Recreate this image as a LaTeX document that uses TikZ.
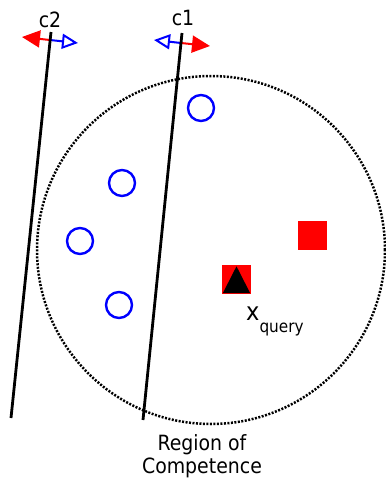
\documentclass[tikz,border=0pt]{standalone}
\usepackage{fontspec}
\setmainfont{DejaVu Sans Condensed}
\usetikzlibrary{arrows.meta}

\begin{document}
\begin{tikzpicture}[
  x=1pt, y=-1pt,
  sample/.style={circle, draw=blue, line width=2.4pt, minimum size=26pt, inner sep=0pt},
  other/.style={fill=red, minimum size=29pt, inner sep=0pt},
  clf/.style={line width=2.8pt, black},
  toward/.style={-{Triangle[open, length=16pt, width=15pt]}, blue, line width=2pt},
  away/.style={-{Triangle[length=18pt, width=17pt]}, red, line width=2pt},
  lbl/.style={font=\fontsize{21}{23}\selectfont, inner sep=0pt},
]
\useasboundingbox (0,0) rectangle (386,483);

% region of competence
\draw[line width=2.5pt, dash pattern=on 2pt off 1.5pt] (211,250) circle (174pt);

\node[sample] (s1) at (201,108) {};
\node[sample] (s2) at (122,183) {};
\node[sample] (s3) at (80,241) {};
\node[sample] (s4) at (119,305) {};
\node[other] (o1) at (312,235) {};
\node[other] (o2) at (236.5,279.5) {};
\fill[black] ([xshift=1pt,yshift=1pt]o2.south west) -- ([yshift=-1.5pt]o2.north)
  -- ([xshift=-1pt,yshift=1pt]o2.south east) -- cycle;
\node[lbl, anchor=base west] (xq) at (246,320)
  {{\fontsize{25}{25}\selectfont x}\raisebox{-12pt}{\fontsize{17}{17}\selectfont query}};

% classifiers
\coordinate (c1top) at (182,33);
\coordinate (c1bot) at (143,420);
\coordinate (c2top) at (51,32);
\coordinate (c2bot) at (11,418);
\coordinate (c1mid) at (181,43);
\coordinate (c1l) at (154,40);
\coordinate (c1r) at (210,46);
\coordinate (c2mid) at (50,40);
\coordinate (c2l) at (22,37);
\coordinate (c2r) at (78,43);
\draw[toward] (c1mid) -- (c1l);
\draw[away] (c1mid) -- (c1r);
\draw[away] (c2mid) -- (c2l);
\draw[toward] (c2mid) -- (c2r);
\draw[clf] (c1top) -- (c1bot);
\draw[clf] (c2top) -- (c2bot);
\node[lbl, anchor=base] (c1) at (183,25) {c1};
\node[lbl, anchor=base] (c2) at (50,27) {c2};

\node[lbl, align=center] (roc) at (202,456) {Region of\\Competence};
\end{tikzpicture}
\end{document}
